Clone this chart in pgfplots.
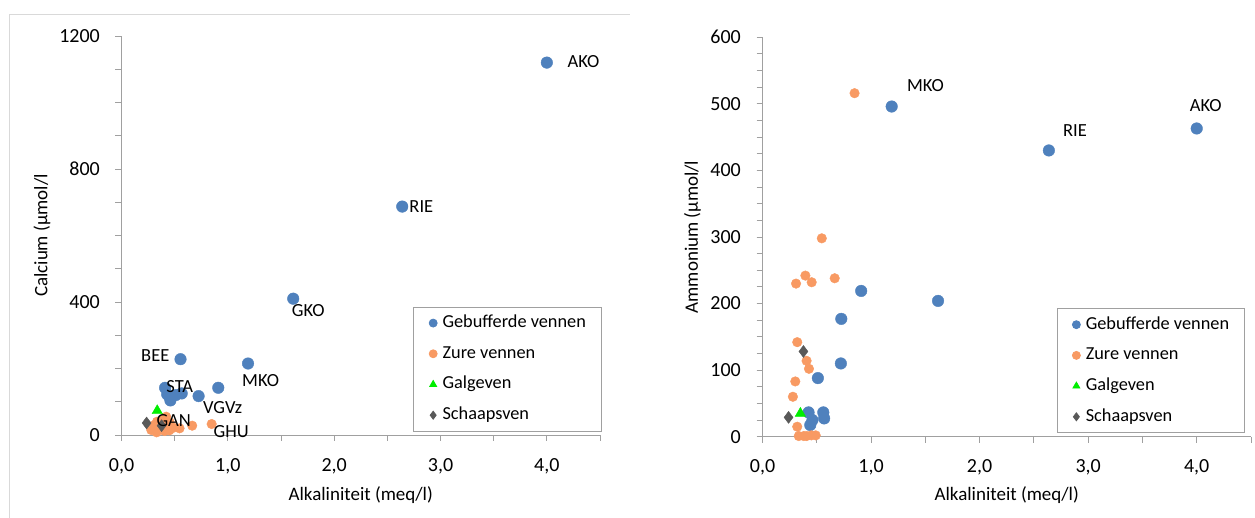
\documentclass[border=0pt]{standalone}
\usepackage{pgfplots}
\pgfplotsset{compat=1.18}
\usepackage{fontspec}
\setmainfont{Carlito}
\definecolor{blueE}{HTML}{4F81BD}
\definecolor{orangeE}{HTML}{F89A63}
\definecolor{greenE}{HTML}{00EE00}
\definecolor{diaE}{HTML}{595959}
\definecolor{axgray}{HTML}{A0A0A0}
\definecolor{framegray}{HTML}{D9D9D9}
\tikzset{lab/.style={font=\fontsize{18.5}{20}\selectfont}}
\pgfplotsset{
  excel/.style={
    scale only axis, clip=false,
    xmin=0, xmax=4.5, ymin=0,
    axis x line*=bottom, axis y line*=left,
    axis line style={-, draw=axgray, line width=0.9pt},
    tick style={draw=axgray, line width=0.9pt},
    tick align=outside, major tick length=6pt, minor tick length=6pt,
    xtick={0,1,2,3,4}, minor xtick={0.5,1.5,2.5,3.5,4.5},
    /pgf/number format/assume math mode=true,
    /pgf/number format/1000 sep={},
    xticklabel={\pgfmathprintnumber[fixed,fixed zerofill,precision=1,use comma]{\tick}},
    yticklabel={\pgfmathprintnumber[fixed,precision=0,1000 sep={}]{\tick}},
    ticklabel style={font=\fontsize{20}{23}\selectfont},
    xticklabel style={inner sep=0pt, yshift=-17pt},
    yticklabel style={anchor=east, inner sep=0pt, xshift=-15.5pt},
    label style={font=\fontsize{19}{22}\selectfont},
    legend cell align=left,
    legend image code/.code={\path (-4pt,0pt) (4pt,0pt); \draw[#1, mark size=4pt] plot coordinates {(0pt,0pt)};},
    legend style={anchor=north west, draw=axgray, line width=0.8pt,
      font=\fontsize{18.3}{20}\selectfont,
      inner xsep=15pt, inner ysep=7.5pt, row sep=13.7pt, column sep=5pt,
      nodes={inner sep=0pt, text height=13pt, text depth=4pt}},
  },
  gb/.style={only marks, mark=*, mark size=5.8pt, mark options={fill=blueE, draw=blueE}},
  zu/.style={only marks, mark=*, mark size=4.8pt, mark options={fill=orangeE, draw=orangeE}},
  ga/.style={only marks, mark=triangle*, mark size=6pt, mark options={fill=greenE, draw=greenE}},
  sc/.style={only marks, mark=diamond*, mark size=6pt, mark options={fill=diaE, draw=diaE}},
  labels/.style={forget plot, only marks, mark=*, mark size=0pt, mark options={draw=none, fill=none},
    point meta=explicit symbolic, nodes near coords,
    nodes near coords style={lab, anchor=center, inner sep=0pt, text=black}},
}
\begin{document}
\begin{tikzpicture}
\useasboundingbox (0pt,0pt) rectangle (1255pt,518pt);
\draw[framegray, line width=1pt] (9.3pt,0pt) -- (9.3pt,503pt) -- (630pt,503pt);
% ---------------- left: Calcium
\begin{axis}[excel,
  at={(121.5pt,83pt)}, anchor=south west, width=478.5pt, height=399pt,
  ymax=1200, ytick={0,400,800,1200}, minor ytick={100,200,300,500,600,700,900,1000,1100},
  xlabel={Alkaliniteit (meq/l)}, ylabel={Calcium (µmol/l},
  xlabel style={at={(axis description cs:0.5,-0.150)}, anchor=center},
  ylabel style={at={(axis description cs:-0.1661,0.5)}, anchor=center},
  legend style={at={(0.61,0.3216)}},
]
\addplot[gb] coordinates {(4.00,1120) (2.64,687) (1.615,410) (1.19,215) (0.555,228) (0.91,142) (0.725,117) (0.566,125) (0.51,120) (0.41,142) (0.43,122) (0.456,115) (0.46,104)};
\addplot[zu] coordinates {(0.848,33) (0.665,28) (0.546,20) (0.395,48) (0.453,38) (0.309,30) (0.32,15) (0.406,12) (0.428,30) (0.302,20) (0.28,15) (0.33,8) (0.334,40) (0.45,14) (0.49,22) (0.42,55) (0.36,25)};
\addplot[ga] coordinates {(0.336,73)};
\addplot[sc] coordinates {(0.236,36) (0.377,28)};
\legend{Gebufferde vennen, Zure vennen, Galgeven, Schaapsven}
\addplot[labels] coordinates {(4.345,1123)[AKO] (2.82,687)[RIE] (1.756,374)[GKO] (1.308,165)[MKO] (0.318,240)[BEE] (0.548,145)[STA] (0.951,82)[VGVz] (0.491,42)[GAN] (1.032,10)[GHU]};
\end{axis}
% ---------------- right: Ammonium
\begin{axis}[excel,
  at={(762.5pt,81.3pt)}, anchor=south west, width=488.5pt, height=399.4pt,
  ymax=600, ytick={0,100,...,600}, minor ytick={25,50,...,575},
  xlabel={Alkaliniteit (meq/l)}, ylabel={Ammonium (µmol/l},
  xlabel style={at={(axis description cs:0.5,-0.146)}, anchor=center},
  ylabel style={at={(axis description cs:-0.1433,0.5)}, anchor=center},
  legend style={at={(0.602,0.3215)}},
]
\addplot[gb] coordinates {(1.19,496) (2.638,430) (4.0,463) (0.909,219) (1.617,204) (0.726,177) (0.722,110) (0.51,88) (0.424,36.5) (0.56,36.5) (0.568,27.5) (0.46,25) (0.44,17.5)};
\addplot[zu] coordinates {(0.848,516) (0.546,298) (0.395,242) (0.453,232) (0.665,238) (0.309,230) (0.32,142) (0.406,114) (0.428,102) (0.302,83) (0.28,60) (0.32,15) (0.334,1) (0.406,1) (0.45,2) (0.49,2) (0.38,1)};
\addplot[ga] coordinates {(0.349,35)};
\addplot[sc] coordinates {(0.24,29) (0.377,128)};
\legend{Gebufferde vennen, Zure vennen, Galgeven, Schaapsven}
\addplot[labels] coordinates {(1.502,528)[MKO] (2.879,460)[RIE] (4.083,498)[AKO]};
\end{axis}
\end{tikzpicture}
\end{document}
